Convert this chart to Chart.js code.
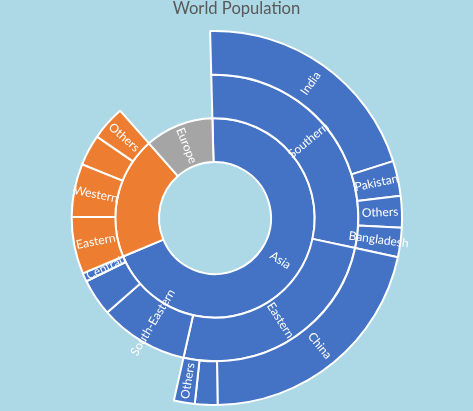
<!DOCTYPE html>
<html>
<head>
<meta charset="utf-8">
<script src="https://cdn.jsdelivr.net/npm/chart.js@4/dist/chart.umd.min.js"></script>
<style>
  html, body { margin: 0; padding: 0; background: #ADD8E6; }
  #wrap { width: 473px; height: 411px; position: relative; }
</style>
</head>
<body>
<div id="wrap"><canvas id="c"></canvas></div>
<script>
// ---- data (population, millions) ----
const chartTitle = "World Population";

// level 1 (inner ring)
const continentLabels = ["Asia", "", "Europe"];
const continentValues = [4640, 1328, 746];

// level 2 (middle ring); parent = index into continents
const regionLabels  = ["Southern", "Eastern", "South-Eastern", "", "Central", "Eastern", "Western", "", "Others"];
const regionValues  = [1932, 1690, 673, 280, 65, 433, 401, 235, 259];
const regionParents = [0, 0, 0, 0, 0, 1, 1, 1, 1];

// level 3 (outer ring); parent = index into regions
const countryLabels  = ["India", "Pakistan", "Others", "Bangladesh", "China", "", "Others"];
const countryValues  = [1376, 203, 183, 170, 1438, 131, 121];
const countryParents = [0, 0, 0, 0, 1, 1, 1];

// ---- styles ----
const palette = ["#4472C4", "#ED7D31", "#A5A5A5"];
const gapColor = "rgba(0,0,0,0)";
const sum = a => a.reduce((s, v) => s + v, 0);
const total = sum(continentValues);

// rings that do not cover the full circle are completed with an invisible gap
const regionData = regionValues.concat([total - sum(regionValues)]);
const regionColors = regionParents.map(p => palette[p]).concat([gapColor]);
const regionBorders = regionValues.map(() => 2).concat([0]);
const regionTexts = regionLabels.concat([""]);

const countryData = countryValues.concat([total - sum(countryValues)]);
const countryColors = countryParents.map(p => palette[regionParents[p]]).concat([gapColor]);
const countryBorders = countryValues.map(() => 2).concat([0]);
const countryTexts = countryLabels.concat([""]);

const arcLabels = {
  id: "arcLabels",
  afterDatasetsDraw(chart) {
    const ctx = chart.ctx;
    chart.data.datasets.forEach((ds, di) => {
      const meta = chart.getDatasetMeta(di);
      meta.data.forEach((arc, i) => {
        const t = ds.texts[i];
        if (!t) return;
        const p = arc.getProps(["x", "y", "startAngle", "endAngle", "innerRadius", "outerRadius"], true);
        const a = (p.startAngle + p.endAngle) / 2;
        const r = (p.innerRadius + p.outerRadius) / 2;
        const x = p.x + Math.cos(a) * r;
        const y = p.y + Math.sin(a) * r;
        const norm = ((a % (2 * Math.PI)) + 2 * Math.PI) % (2 * Math.PI);
        let rot = a;
        if (norm > Math.PI / 2 && norm < 3 * Math.PI / 2) rot = a + Math.PI;
        ctx.save();
        ctx.translate(x, y);
        ctx.rotate(rot);
        ctx.fillStyle = "#FFFFFF";
        ctx.font = "12px Lato";
        ctx.textAlign = "center";
        ctx.textBaseline = "middle";
        ctx.fillText(t, 0, 0);
        ctx.restore();
      });
    });
  }
};

const titlePlugin = {
  id: "topTitle",
  afterDraw(chart) {
    const ctx = chart.ctx;
    ctx.save();
    ctx.fillStyle = "#595959";
    ctx.font = "16.6px Lato";
    ctx.textAlign = "center";
    ctx.textBaseline = "alphabetic";
    ctx.fillText(chartTitle, chart.width / 2, 14);
    ctx.restore();
  }
};

function build() {
  new Chart(document.getElementById("c"), {
    type: "doughnut",
    data: {
      labels: countryTexts,
      datasets: [
        { data: countryData, backgroundColor: countryColors, borderColor: "#FFFFFF", borderWidth: countryBorders, texts: countryTexts },
        { data: regionData, backgroundColor: regionColors, borderColor: "#FFFFFF", borderWidth: regionBorders, texts: regionTexts },
        { data: continentValues, backgroundColor: continentValues.map((v, i) => palette[i]), borderColor: "#FFFFFF", borderWidth: 2, texts: continentLabels }
      ]
    },
    options: {
      responsive: true,
      maintainAspectRatio: false,
      animation: false,
      events: [],
      rotation: -1.5,
      cutout: 56,
      hoverOffset: 0,
      offset: 0,
      layout: { padding: { left: 27, right: 70, top: 30, bottom: 5 } },
      plugins: {
        legend: { display: false },
        tooltip: { enabled: false },
        title: { display: false }
      }
    },
    plugins: [arcLabels, titlePlugin]
  });
}

if (document.fonts && document.fonts.load) {
  Promise.all([document.fonts.load("12px Lato"), document.fonts.load("16px Lato")]).then(build, build);
} else {
  build();
}
</script>
</body>
</html>
